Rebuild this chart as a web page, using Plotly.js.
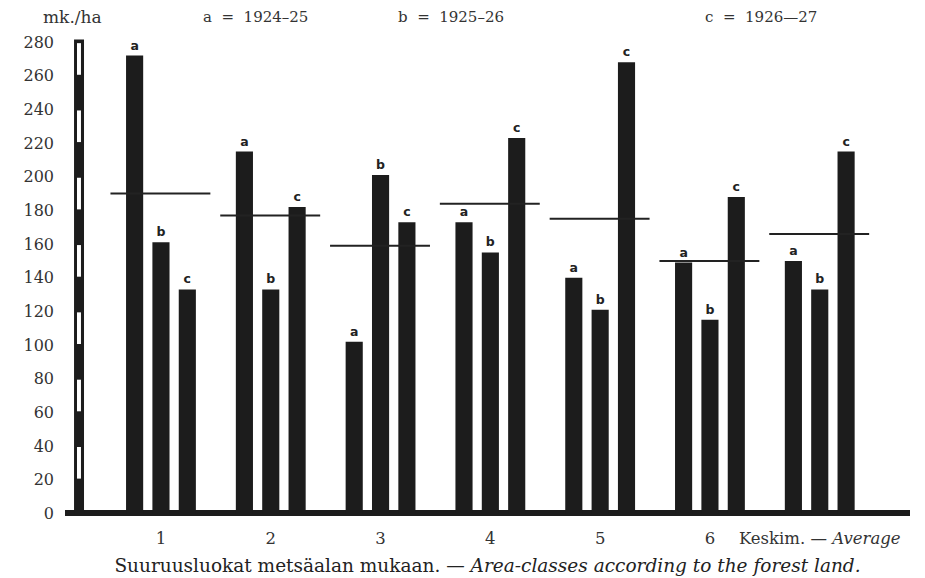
<!DOCTYPE html>
<html>
<head>
<meta charset="utf-8">
<script src="https://cdn.plot.ly/plotly-3.0.1.min.js"></script>
<style>
  html, body { margin: 0; padding: 0; background: #ffffff; }
  #chart { width: 925px; height: 578px; }
</style>
</head>
<body>
<div id="chart"></div>
<script>
// ---- Data ----
const categories = ['1', '2', '3', '4', '5', '6', 'Keskim. — <i>Average</i>'];
const seriesA = [272, 215, 102, 173, 140, 149, 150];   // a = 1924–25
const seriesB = [161, 133, 201, 155, 121, 115, 133];   // b = 1925–26
const seriesC = [133, 182, 173, 223, 268, 188, 215];   // c = 1926–27
const averages = [190, 177, 159, 184, 175, 150, 166];  // horizontal average line per group
const seriesLetters = ['a', 'b', 'c'];
const legendTexts = ['a = 1924–25', 'b = 1925–26', 'c = 1926—27'];
const unitLabel = 'mk./ha';
const yTicks = [0, 20, 40, 60, 80, 100, 120, 140, 160, 180, 200, 220, 240, 260, 280];
const xTitle = 'Suuruusluokat metsäalan mukaan. — <i>Area-classes according to the forest land.</i>';

// ---- Styling ----
const ink = '#1c1c1c';
const serif = 'DejaVu Serif';
const letterFont = { family: 'DejaVu Sans', size: 12.5, color: '#222', weight: 'bold' };

const xIdx = categories.map((c, i) => i);
const allSeries = [seriesA, seriesB, seriesC];

const barTraces = allSeries.map((vals, k) => ({
  type: 'bar',
  x: xIdx,
  y: vals,
  text: vals.map(() => seriesLetters[k]),
  textposition: 'outside',
  textfont: letterFont,
  cliponaxis: false,
  marker: { color: ink, line: { width: 0 } },
  hoverinfo: 'skip',
  showlegend: false
}));

// Average lines spanning each group
const avgX = [], avgY = [];
averages.forEach((v, i) => {
  avgX.push(i - 0.46, i + 0.45, null);
  avgY.push(v, v, null);
});
const avgTrace = {
  type: 'scatter', mode: 'lines',
  x: avgX, y: avgY,
  line: { color: '#222', width: 2 },
  hoverinfo: 'skip', showlegend: false, cliponaxis: false
};

// Striped scale bar along the y axis
const shapes = [];
const barTop = yTicks[yTicks.length - 1];
shapes.push({ type: 'rect', xref: 'paper', yref: 'y', x0: 0.0107, x1: 0.0225, y0: 0, y1: barTop + 1.5,
  fillcolor: ink, line: { width: 0 }, layer: 'above' });
for (let i = 1; i < yTicks.length; i += 2) {
  shapes.push({ type: 'rect', xref: 'paper', yref: 'y', x0: 0.0142, x1: 0.0189,
    y0: yTicks[i] + 0.6, y1: yTicks[i + 1] !== undefined ? yTicks[i + 1] - 0.6 : barTop,
    fillcolor: '#ffffff', line: { width: 0 }, layer: 'above' });
}

// Top labels
const topY = 1.0224;
const annotations = [
  { text: unitLabel, x: 0.0083, xref: 'paper', y: topY, yref: 'paper', showarrow: false,
    xanchor: 'center', yanchor: 'middle', font: { family: serif, size: 17, color: '#333' } }
];
const legendX = [0.226, 0.457, 0.824];
legendTexts.forEach((t, k) => {
  annotations.push({ text: t.replace(/ /g, '\u00a0\u00a0'), x: legendX[k], xref: 'paper', y: topY, yref: 'paper',
    showarrow: false, xanchor: 'center', yanchor: 'middle', font: { family: serif, size: 15, color: '#333' } });
});

const layout = {
  width: 925, height: 578,
  margin: { l: 65, r: 15, t: 28, b: 58 },
  paper_bgcolor: '#ffffff', plot_bgcolor: '#ffffff',
  barmode: 'group', bargap: 0.28, bargroupgap: 0.35,
  showlegend: false,
  xaxis: {
    range: [-0.874, 6.822],
    tickmode: 'array', tickvals: xIdx, ticktext: categories,
    showgrid: false, zeroline: false, showline: false, ticks: '',
    ticklabelstandoff: 6,
    tickfont: { family: serif, size: 16.5, color: '#333' },
    title: { text: xTitle, standoff: 12, font: { family: serif, size: 18.5, color: '#222' } }
  },
  yaxis: {
    range: [-4, 288.4],
    tickmode: 'array', tickvals: yTicks, ticktext: yTicks.map(String),
    showgrid: false, showline: false, ticks: '',
    zeroline: true, zerolinecolor: ink, zerolinewidth: 6,
    ticklabelstandoff: 10,
    tickfont: { family: serif, size: 16, color: '#333' }
  },
  shapes: shapes,
  annotations: annotations
};

Plotly.newPlot('chart', [...barTraces, avgTrace], layout, { staticPlot: true, displayModeBar: false });
</script>
</body>
</html>
